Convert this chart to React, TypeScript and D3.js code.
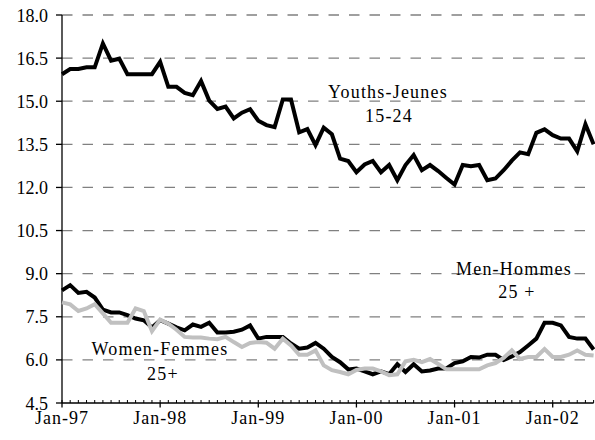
import React from "react";
import * as d3 from "d3";

const months: number[] = d3.range(66);
const xTickLabels = ["Jan-97", "Jan-98", "Jan-99", "Jan-00", "Jan-01", "Jan-02"];
const xTickIndex = [0, 12, 24, 36, 48, 60];
const yTicks = [4.5, 6.0, 7.5, 9.0, 10.5, 12.0, 13.5, 15.0, 16.5, 18.0];

const youths = [
  15.94, 16.12, 16.12, 16.18, 16.18, 17.01, 16.41, 16.48, 15.94, 15.94, 15.94, 15.94,
  16.37, 15.5, 15.5, 15.29, 15.21, 15.7, 15.02, 14.73, 14.81, 14.4, 14.6, 14.72,
  14.32, 14.17, 14.1, 15.06, 15.06, 13.92, 14.03, 13.47, 14.08, 13.85, 13.0, 12.92,
  12.53, 12.8, 12.92, 12.53, 12.78, 12.25, 12.78, 13.13, 12.6, 12.78, 12.57, 12.33,
  12.1, 12.78, 12.74, 12.78, 12.25, 12.31, 12.6, 12.93, 13.22, 13.16, 13.9, 14.02,
  13.82, 13.7, 13.7, 13.26, 14.2, 13.5,
];
const men = [
  8.42, 8.6, 8.33, 8.37, 8.17, 7.75, 7.65, 7.65, 7.56, 7.44, 7.38, 7.13,
  7.38, 7.26, 7.13, 7.03, 7.23, 7.15, 7.29, 6.95, 6.95, 6.98, 7.05, 7.2,
  6.74, 6.8, 6.8, 6.8, 6.57, 6.39, 6.43, 6.59, 6.39, 6.1, 5.92, 5.67,
  5.7, 5.6, 5.5, 5.6, 5.5, 5.85, 5.58, 5.85, 5.6, 5.63, 5.7, 5.7,
  5.89, 5.95, 6.1, 6.08, 6.18, 6.18, 6.0, 6.12, 6.27, 6.5, 6.74, 7.29,
  7.29, 7.2, 6.8, 6.74, 6.74, 6.36,
];
const women = [
  8.0, 7.93, 7.7, 7.79, 7.94, 7.62, 7.29, 7.29, 7.29, 7.79, 7.7, 7.0,
  7.4, 7.26, 7.05, 6.8, 6.78, 6.78, 6.74, 6.72, 6.8, 6.62, 6.45, 6.59,
  6.62, 6.6, 6.39, 6.74, 6.5, 6.18, 6.18, 6.33, 5.81, 5.64, 5.58, 5.5,
  5.65, 5.7, 5.7, 5.6, 5.47, 5.5, 5.95, 6.0, 5.92, 6.03, 5.86, 5.67,
  5.67, 5.67, 5.67, 5.67, 5.81, 5.89, 6.07, 6.33, 6.03, 6.1, 6.1, 6.38,
  6.1, 6.1, 6.18, 6.33, 6.18, 6.15,
];

const css = `.t { font-family: "Liberation Serif", "Times New Roman", Times, serif; }`;

export default function App() {
  const x = d3.scaleLinear().domain([0, 65]).range([62, 593.6]);
  const y = d3.scaleLinear().domain([4.5, 18]).range([403, 15]);
  const line = d3
    .line<number>()
    .x((_, i) => x(months[i]))
    .y((d) => y(d));

  const x0 = x(0);
  const x1 = x(65);
  const y0 = y(4.5);

  const labels = [
    { t: "Youths-Jeunes", x: 388, y: 98 },
    { t: "15-24", x: 389, y: 121.5 },
    { t: "Men-Hommes", x: 514, y: 275 },
    { t: "25 +", x: 517, y: 298 },
    { t: "Women-Femmes", x: 160, y: 355 },
    { t: "25+", x: 163, y: 380 },
  ];

  return (
    <svg width={595} height={440} style={{ position: "absolute", left: 0, top: 0, background: "#fff" }}>
      <style>{css}</style>
      <rect width={595} height={440} fill="#fff" />
      {yTicks.slice(1).map((t) => (
        <line
          key={"g" + t}
          x1={x0}
          x2={585}
          y1={y(t)}
          y2={y(t)}
          stroke="#808080"
          strokeWidth={1.3}
          strokeDasharray="10.5,10"
        />
      ))}
      <line x1={x0} x2={x0} y1={y(18)} y2={y0} stroke="#000" strokeWidth={1.3} />
      {yTicks.map((t) => (
        <g key={"yt" + t}>
          <line x1={x0 - 6} x2={x0} y1={y(t)} y2={y(t)} stroke="#000" strokeWidth={1.3} />
          <text className="t" x={48} y={y(t) + 6.5} textAnchor="end" fontSize={18}>
            {t.toFixed(1)}
          </text>
        </g>
      ))}
      <line x1={x0} x2={x1} y1={y0} y2={y0} stroke="#000" strokeWidth={1.3} />
      {months.map((m) => (
        <line key={"mt" + m} x1={x(m)} x2={x(m)} y1={y0 - 3} y2={y0} stroke="#000" strokeWidth={1} />
      ))}
      {xTickIndex.map((m, i) => (
        <g key={"xt" + m}>
          <line x1={x(m)} x2={x(m)} y1={y0} y2={y0 + 4.5} stroke="#000" strokeWidth={1.3} />
          <text
            className="t"
            x={x(m)}
            y={424}
            textAnchor="middle"
            fontSize={18}
            style={{ letterSpacing: "1px" }}
          >
            {xTickLabels[i]}
          </text>
        </g>
      ))}
      <path d={line(youths) || ""} fill="none" stroke="#000" strokeWidth={4} strokeLinejoin="miter" />
      <path d={line(men) || ""} fill="none" stroke="#000" strokeWidth={4} strokeLinejoin="miter" />
      <path d={line(women) || ""} fill="none" stroke="#c0c0c0" strokeWidth={4} strokeLinejoin="miter" />
      {labels.map((l) => (
        <text
          key={l.t}
          className="t"
          x={l.x}
          y={l.y}
          fontSize={18}
          textAnchor="middle"
          style={{ letterSpacing: "1.2px" }}
        >
          {l.t}
        </text>
      ))}
    </svg>
  );
}
